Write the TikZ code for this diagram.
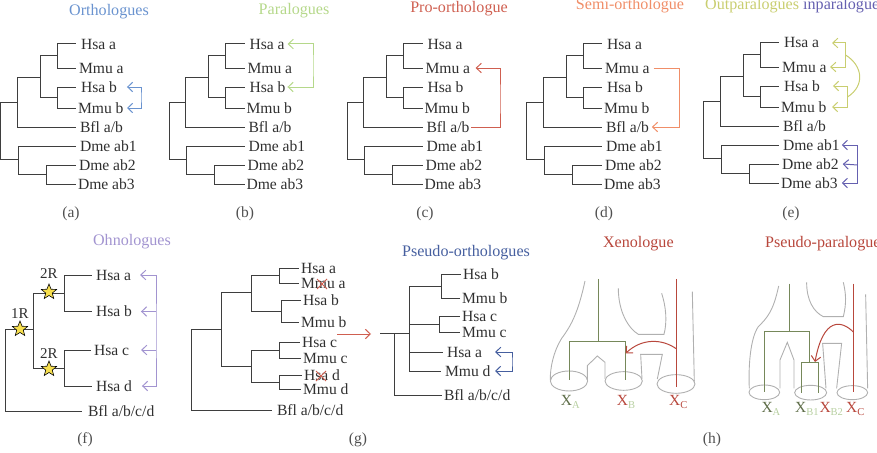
\documentclass[tikz,border=0pt]{standalone}
\usepackage{fontspec}
\setmainfont{Liberation Serif}
\usetikzlibrary{arrows.meta,shapes.geometric,shapes.misc}
\definecolor{ink}{HTML}{303030}
\definecolor{branch}{HTML}{3E3E3E}
\definecolor{orthoblue}{HTML}{6A93CF}
\definecolor{paragreen}{HTML}{B5D88A}
\definecolor{prored}{HTML}{CF5F50}
\definecolor{semiorange}{HTML}{F08E68}
\definecolor{outpar}{HTML}{C9CE70}
\definecolor{inpar}{HTML}{6560B0}
\definecolor{ohno}{HTML}{A294D0}
\definecolor{pseudoblue}{HTML}{465F9F}
\definecolor{xenored}{HTML}{B8473C}
\definecolor{olive}{HTML}{76885A}
\definecolor{palegreen}{HTML}{B7CFA0}
\definecolor{outline}{HTML}{B0B0B0}
\definecolor{staryellow}{HTML}{F7DF4E}
\tikzset{
  leaf/.style={anchor=west,inner xsep=2pt,inner ysep=0pt,outer sep=0pt,text height=10pt,text depth=0pt,
    text=ink,font=\fontsize{15.6}{16}\selectfont},
  heading/.style={inner sep=0pt,font=\fontsize{16.1}{17}\selectfont},
  caption/.style={inner sep=0pt,text=ink!85,font=\fontsize{15.5}{16}\selectfont},
  limb/.style={draw=branch,line width=1pt},
  tip/.style={line width=1pt,{Straight Barb[length=5pt,width=9.5pt]}-{Straight Barb[length=5pt,width=9.5pt]}},
  tipend/.style={line width=1pt,-{Straight Barb[length=5pt,width=9.5pt]}},
  dup/.style={star,star points=5,star point ratio=2.3,minimum size=16pt,inner sep=0pt,fill=staryellow,draw=black,line width=0.6pt},
  lost/.style={cross out,draw=prored,line width=1pt,minimum size=9pt,inner sep=0pt},
  tag/.style={inner sep=0pt,text=ink,font=\fontsize{15}{16}\selectfont},
  shell/.style={draw=outline,line width=0.9pt},
  spe/.style={anchor=west,inner sep=0pt,font=\fontsize{15.5}{18}\selectfont},
}
\newcommand{\subfont}{\fontsize{10.5}{12}\selectfont}
% Eight-leaf gene tree shared by panels (a)--(e): prefix, x offset, y offset
\newcommand{\genetree}[3]{%
  \begin{scope}[shift={(#2,#3)}]
    \coordinate (#1-root) at (0.5,132);
    \coordinate (#1-up) at (17,102);
    \coordinate (#1-low) at (18,159);
    \coordinate (#1-i) at (40,77);
    \coordinate (#1-ia) at (57,56);
    \coordinate (#1-ib) at (57,97);
    \coordinate (#1-d) at (46,174);
    \node[leaf,inner xsep=5pt] (#1-hsaa) at (76,44) {Hsa a};
    \node[leaf,inner xsep=3pt] (#1-mmua) at (76,68) {Mmu a};
    \node[leaf,inner xsep=5pt] (#1-hsab) at (76,87) {Hsa b};
    \node[leaf,inner xsep=2pt] (#1-mmub) at (76,108) {Mmu b};
    \node[leaf,inner xsep=4pt] (#1-bfl) at (76,127) {Bfl a/b};
    \node[leaf,inner xsep=4pt] (#1-dme1) at (76,146) {Dme ab1};
    \node[leaf,inner xsep=3pt] (#1-dme2) at (76,165) {Dme ab2};
    \node[leaf,inner xsep=2pt] (#1-dme3) at (76,184) {Dme ab3};
    \draw[limb] (#1-root) |- (#1-up);
    \draw[limb] (#1-root) |- (#1-low);
    \draw[limb] (#1-up) |- (#1-i);
    \draw[limb] (#1-up) |- (#1-bfl);
    \draw[limb] (#1-i) |- (#1-ia);
    \draw[limb] (#1-i) |- (#1-ib);
    \draw[limb] (#1-ia) |- (#1-hsaa);
    \draw[limb] (#1-ia) |- (#1-mmua);
    \draw[limb] (#1-ib) |- (#1-hsab);
    \draw[limb] (#1-ib) |- (#1-mmub);
    \draw[limb] (#1-low) |- (#1-dme1);
    \draw[limb] (#1-low) |- (#1-d);
    \draw[limb] (#1-d) |- (#1-dme2);
    \draw[limb] (#1-d) |- (#1-dme3);
  \end{scope}}
\begin{document}
\begin{tikzpicture}[x=1pt,y=-1pt]
\useasboundingbox (0,0) rectangle (877,452);
\clip (0,0) rectangle (877,452);

% Top row: five copies of the gene tree
\genetree{a}{0}{0}
\genetree{b}{168.5}{0}
\genetree{c}{346.5}{0}
\genetree{d}{526}{0}
\genetree{e}{703}{-1}

\node[heading,text=orthoblue] (ta) at (109,12) {Orthologues};
\node[heading,text=paragreen] (tb) at (294,11) {Paralogues};
\node[heading,text=prored] (tc) at (459,9) {Pro-orthologue};
\node[heading,text=semiorange] (td) at (630,6) {Semi-orthologue};
\node[heading,text=outpar,anchor=west] (te1) at (705,6) {Outparalogues};
\node[heading,text=inpar,anchor=west] (te2) at (803,6) {inparalogues};

\node[caption] (ca) at (71,214) {(a)};
\node[caption] (cb) at (245,214) {(b)};
\node[caption] (cc) at (425,214) {(c)};
\node[caption] (cd) at (604,214) {(d)};
\node[caption] (ce) at (791,214) {(e)};
\node[caption] (cf) at (85,440) {(f)};
\node[caption] (cg) at (358,440) {(g)};
\node[caption] (ch) at (712,440) {(h)};

% Relationship markers on the top row
\coordinate (sa) at (141,97);
\draw[tip,orthoblue] ([xshift=5pt]a-hsab.east) -| (sa) |- ([xshift=1.5pt]a-mmub.east);
\coordinate (sb) at (313,66);
\draw[tip,paragreen] ([xshift=-2pt]b-hsaa.east) -| (sb) |- ([xshift=-3pt]b-hsab.east);
\coordinate (sc) at (500,100);
\draw[tipend,prored] ([xshift=-2pt]c-bfl.east) -| (sc) |- ([xshift=2.5pt]c-mmua.east);
\coordinate (sd) at (679,100);
\draw[tipend,semiorange] ([xshift=1pt]d-mmua.east) -| (sd) |- ([xshift=-1pt]d-bfl.east);

\coordinate (se1) at (845.5,55);
\coordinate (se2) at (847.5,97);
\draw[tip,outpar] ([xshift=8pt]e-hsaa.east) -| (se1) |- ([xshift=0.5pt]e-mmua.east);
\draw[tip,outpar] ([xshift=8pt]e-hsab.east) -| (se2) |- ([xshift=3.5pt]e-mmub.east);
\draw[outpar,line width=1pt] (se1) .. controls (862,65) and (866,85) .. (se2);
\coordinate (se3) at (857.5,165);
\draw[tip,inpar] ([xshift=-2pt]e-dme1.east) -| (se3) |- ([xshift=2pt]e-dme3.east);
\draw[tipend,inpar] (se3) -- ([xshift=1pt]e-dme2.east);

% Panel (f): two rounds of whole-genome duplication
\coordinate (f-root) at (5,370);
\coordinate (f-1r) at (33,331);
\coordinate (f-2ra) at (64,293.5);
\coordinate (f-2rb) at (64,368.5);
\node[leaf,inner xsep=4pt] (f-a) at (92,275) {Hsa a};
\node[leaf,inner xsep=4pt] (f-b) at (92,311.5) {Hsa b};
\node[leaf,inner xsep=3pt] (f-c) at (91,350) {Hsa c};
\node[leaf,inner xsep=4pt] (f-d) at (92,386) {Hsa d};
\node[leaf,inner xsep=6pt] (f-bfl) at (82,411) {Bfl a/b/c/d};
\coordinate (f-top) at (33,329);
\draw[limb] (f-root) |- (f-top);
\draw[limb] (f-root) |- (f-bfl);
\draw[limb] (f-1r) |- (f-2ra);
\draw[limb] (f-1r) |- (f-2rb);
\draw[limb] (f-2ra) |- (f-a);
\draw[limb] (f-2ra) |- (f-b);
\draw[limb] (f-2rb) |- (f-c);
\draw[limb] (f-2rb) |- (f-d);
\node[dup] (star1) at (20,329) {};
\node[dup] (star2) at (49,292) {};
\node[dup] (star3) at (49,369) {};
\node[tag] (r1) at (20,314) {1R};
\node[tag] (r2) at (49,274) {2R};
\node[tag] (r3) at (49,354) {2R};
\node[heading,text=ohno] (tf) at (132,242) {Ohnologues};
\coordinate (sf) at (156,331);
\draw[tip,ohno] ([xshift=5pt]f-a.east) -| (sf) |- ([xshift=6pt]f-d.east);
\draw[tipend,ohno] (sf |- f-b) -- ([xshift=5pt]f-b.east);
\draw[tipend,ohno] (sf |- f-c) -- ([xshift=9pt]f-c.east);

% Panel (g): left tree with gene losses
\coordinate (g-root) at (191,370);
\coordinate (g-top) at (221,329);
\coordinate (g-mid) at (221,331);
\coordinate (g-u) at (251,292.5);
\coordinate (g-l) at (251,366);
\coordinate (g-ua) at (279,275.5);
\coordinate (g-ub) at (281,311);
\coordinate (g-la) at (279,350);
\coordinate (g-lb) at (279,382);
\node[leaf] (g-hsaa) at (299,268) {Hsa a};
\node[leaf] (g-mmua) at (299,283) {Mmu a};
\node[leaf] (g-hsab) at (301,300) {Hsa b};
\node[leaf] (g-mmub) at (299,322) {Mmu b};
\node[leaf] (g-hsac) at (300,342) {Hsa c};
\node[leaf] (g-mmuc) at (301,358) {Mmu c};
\node[leaf] (g-hsad) at (302,375) {Hsa d};
\node[leaf] (g-mmud) at (301,389) {Mmu d};
\node[leaf,inner xsep=5pt] (g-bfl) at (272,410.5) {Bfl a/b/c/d};
\draw[limb] (g-root) |- (g-top);
\draw[limb] (g-root) |- (g-bfl);
\draw[limb] (g-mid) |- (g-u);
\draw[limb] (g-mid) |- (g-l);
\draw[limb] (g-u) |- (g-ua);
\draw[limb] (g-u) |- (g-ub);
\draw[limb] (g-l) |- (g-la);
\draw[limb] (g-l) |- (g-lb);
\draw[limb] (g-ua) |- (g-hsaa);
\draw[limb] (g-ua) |- (g-mmua);
\draw[limb] (g-ub) |- (g-hsab);
\draw[limb] (g-ub) |- (g-mmub);
\draw[limb] (g-la) |- (g-hsac);
\draw[limb] (g-la) |- (g-mmuc);
\draw[limb] (g-lb) |- (g-hsad);
\draw[limb] (g-lb) |- (g-mmud);
\node[lost] (x1) at (322,284) {};
\node[lost] (x2) at (321,376) {};

\coordinate (g-from) at (337,334);
\coordinate (g-to) at (371,334);
\draw[tipend,prored] (g-from) -- (g-to);

% Panel (g): right tree after the losses
\coordinate (k-stem) at (380,333);
\coordinate (k-n1) at (409,328.5);
\coordinate (k-n0) at (394,364);
\coordinate (k-b) at (441,286);
\coordinate (k-c) at (439,324);
\node[leaf] (k-hsab) at (461,274) {Hsa b};
\node[leaf] (k-mmub) at (460,298) {Mmu b};
\node[leaf] (k-hsac) at (460,316) {Hsa c};
\node[leaf] (k-mmuc) at (460,332) {Mmu c};
\node[leaf,inner xsep=4pt] (k-hsaa) at (443,352) {Hsa a};
\node[leaf,inner xsep=4pt] (k-mmud) at (441,371) {Mmu d};
\node[leaf] (k-bfl) at (442,395) {Bfl a/b/c/d};
\draw[limb] (k-stem) -- (k-stem -| k-n1);
\draw[limb] (k-n0) |- (k-bfl);
\draw[limb] (k-n0) -- (k-n0 |- k-stem);
\draw[limb] (k-n1) |- (k-b);
\draw[limb] (k-n1) |- (k-mmud);
\draw[limb] (k-n1) |- (k-c);
\draw[limb] (k-n1) |- (k-hsaa);
\draw[limb] (k-b) |- (k-hsab);
\draw[limb] (k-b) |- (k-mmub);
\draw[limb] (k-c) |- (k-hsac);
\draw[limb] (k-c) |- (k-mmuc);
\coordinate (sk) at (512,362);
\draw[tip,pseudoblue] ([xshift=9pt]k-hsaa.east) -| (sk) |- ([xshift=0.5pt]k-mmud.east);
\node[heading,text=pseudoblue] (tg) at (466,253) {Pseudo-orthologues};

% Panel (h): species-tree cut-aways, drawn on a finer grid
\begin{scope}[shift={(540,225)},x=0.3333pt,y=-0.3333pt]
  \node[heading,text=xenored] (th1) at (295,55) {Xenologue};
  \node[heading,text=xenored,anchor=west] (th2) at (675,55) {Pseudo-paralogue};

  % Xenologue: species outlines
  \draw[shell] (87,468) ellipse [x radius=56,y radius=30];
  \draw[shell] (251,468) ellipse [x radius=56,y radius=28];
  \draw[shell] (408,477) ellipse [x radius=57,y radius=28];
  \draw[shell] (135,168) .. controls (115,260) and (95,300) .. (65,340) .. controls (40,380) and (30,430) .. (31,465);
  \draw[shell] (142,465) -- (142,422) -- (172,393) -- (195,412) -- (195,462);
  \draw[shell] (306,462) -- (302,388) -- (367,388) -- (352,462);
  \draw[shell] (457,200) -- (463,470);
  \draw[shell] (235,190) .. controls (235,260) and (265,310) .. (295,328) -- (372,328) .. controls (382,290) and (378,245) .. (365,205);

  % Xenologue: gene tree and transfer
  \coordinate (x-stem) at (174,162);
  \coordinate (x-node) at (174,349);
  \coordinate (x-a) at (87,465);
  \coordinate (x-b) at (257,465);
  \coordinate (x-ct) at (410,162);
  \coordinate (x-cb) at (410,485);
  \coordinate (x-hgt) at (410,372);
  \coordinate (x-land) at (257,385);
  \draw[olive,line width=1pt] (x-stem) -- (x-node);
  \draw[olive,line width=1pt] (x-a) |- (x-node) -| (x-b);
  \draw[xenored,line width=1pt] (x-ct) -- (x-cb);
  \draw[tipend,xenored] (x-hgt) .. controls (365,340) and (305,340) .. (x-land);

  \node[spe] (x-xa) at (62,530) {\textcolor{olive!80!black}{X}\raisebox{-3pt}{\subfont\textcolor{palegreen}{A}}};
  \node[spe] (x-xb) at (230,530) {\textcolor{xenored}{X}\raisebox{-3pt}{\subfont\textcolor{palegreen}{B}}};
  \node[spe] (x-xc) at (387,530) {\textcolor{xenored}{X}\raisebox{-3pt}{\subfont\textcolor{xenored}{C}}};

  % Pseudo-paralogue: species outlines
  \draw[shell] (673,502) ellipse [x radius=46,y radius=22];
  \draw[shell] (812,503) ellipse [x radius=48,y radius=22];
  \draw[shell] (937,503) ellipse [x radius=46,y radius=21];
  \draw[shell] (716,183) .. controls (700,260) and (680,280) .. (655,305) .. controls (630,340) and (625,430) .. (628,490);
  \draw[shell] (720,490) -- (720,405) -- (742,352) -- (762,405) -- (762,490);
  \draw[shell] (858,490) -- (848,355) -- (905,355) -- (890,490);
  \draw[shell] (977,208) -- (983,490);
  \draw[shell] (800,172) .. controls (800,225) and (820,260) .. (850,275) -- (910,275) .. controls (920,235) and (918,205) .. (910,172);

  % Pseudo-paralogue: gene tree and transfer
  \coordinate (y-stem) at (749,176);
  \coordinate (y-node) at (749,320);
  \coordinate (y-a) at (673,500);
  \coordinate (y-in) at (810,413);
  \coordinate (y-b1) at (784,503);
  \coordinate (y-b2) at (835,505);
  \coordinate (y-ct) at (941,176);
  \coordinate (y-cb) at (941,500);
  \coordinate (y-hgt) at (941,322);
  \coordinate (y-land) at (825,411);
  \draw[olive,line width=1pt] (y-stem) -- (y-node);
  \draw[olive,line width=1pt] (y-a) |- (y-node) -| (y-in);
  \draw[olive,line width=1pt] (y-b1) |- (y-in) -| (y-b2);
  \draw[xenored,line width=1pt] (y-ct) -- (y-cb);
  \draw[tipend,xenored] (y-hgt) .. controls (905,285) and (850,275) .. (y-land);

  \node[spe] (y-xa) at (664,552) {\textcolor{olive!80!black}{X}\raisebox{-3pt}{\subfont\textcolor{palegreen}{A}}};
  \node[spe] (y-xb1) at (765,552) {\textcolor{olive!80!black}{X}\raisebox{-3pt}{\subfont\textcolor{palegreen}{B1}}};
  \node[spe] (y-xb2) at (838,552) {\textcolor{xenored}{X}\raisebox{-3pt}{\subfont\textcolor{palegreen}{B2}}};
  \node[spe] (y-xc) at (918,552) {\textcolor{xenored}{X}\raisebox{-3pt}{\subfont\textcolor{xenored}{C}}};
\end{scope}
\end{tikzpicture}
\end{document}
